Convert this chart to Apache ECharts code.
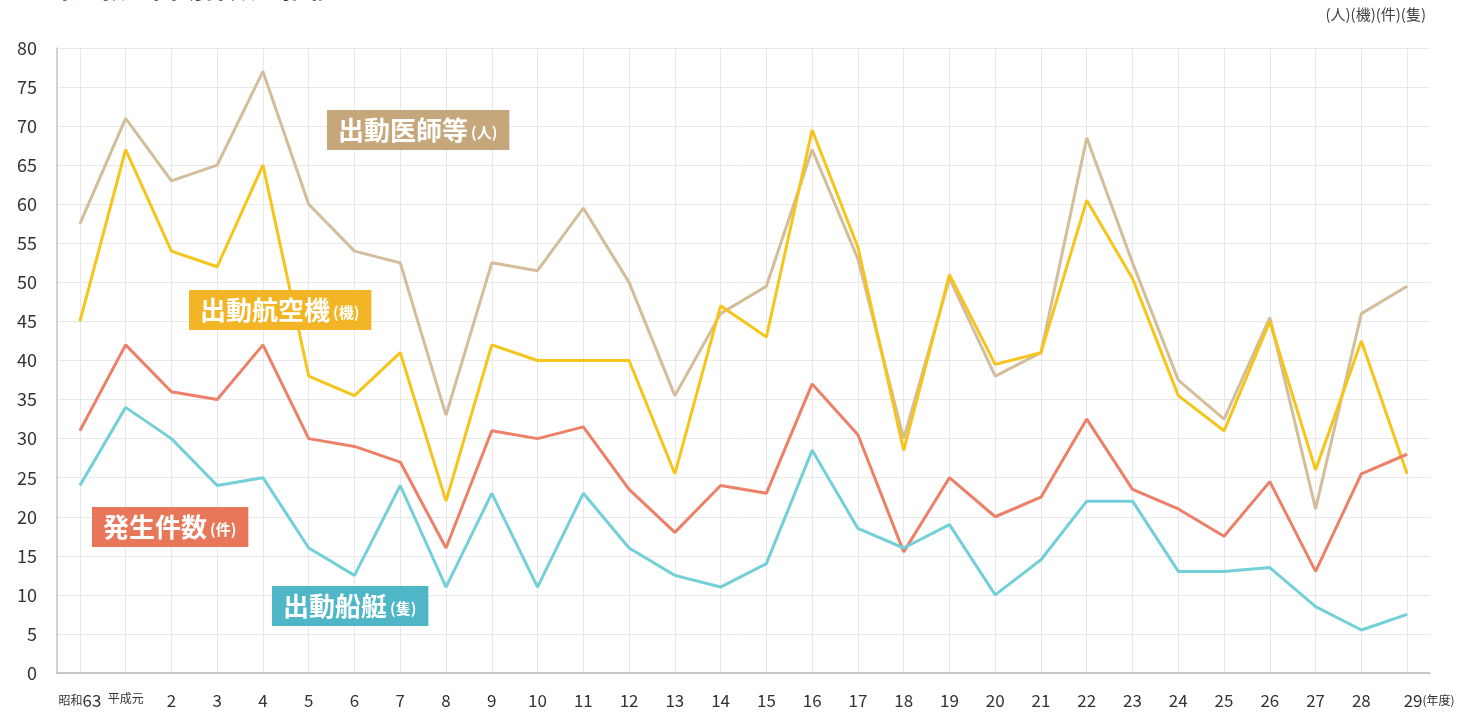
<!DOCTYPE html>
<html>
<head>
<meta charset="utf-8">
<script src="https://cdn.jsdelivr.net/npm/echarts@6/dist/echarts.min.js"></script>
<style>
  html, body { margin: 0; padding: 0; background: #fff; }
  #chart { width: 1466px; height: 716px; }
</style>
</head>
<body>
<div id="chart"></div>
<script>
// 年度
const years = ['昭和63', '平成元', '2', '3', '4', '5', '6', '7', '8', '9', '10', '11', '12', '13', '14',
  '15', '16', '17', '18', '19', '20', '21', '22', '23', '24', '25', '26', '27', '28', '29']
// 出動医師等(人)
const doctors = [57.5, 71, 63, 65, 77, 60, 54, 52.5, 33, 52.5, 51.5, 59.5, 50, 35.5, 46, 49.5, 67, 53, 30, 50.5,
  38, 41, 68.5, 52.5, 37.5, 32.5, 45.5, 21, 46, 49.5]
// 出動航空機(機)
const aircraft = [45, 67, 54, 52, 65, 38, 35.5, 41, 22, 42, 40, 40, 40, 25.5, 47, 43, 69.5, 54.5, 28.5, 51,
  39.5, 41, 60.5, 50.5, 35.5, 31, 45, 26, 42.5, 25.5]
// 発生件数(件)
const cases = [31, 42, 36, 35, 42, 30, 29, 27, 16, 31, 30, 31.5, 23.5, 18, 24, 23, 37, 30.5, 15.5, 25,
  20, 22.5, 32.5, 23.5, 21, 17.5, 24.5, 13, 25.5, 28]
// 出動船艇(隻)
const ships = [24, 34, 30, 24, 25, 16, 12.5, 24, 11, 23, 11, 23, 16, 12.5, 11, 14, 28.5, 18.5, 16, 19,
  10, 14.5, 22, 22, 13, 13, 13.5, 8.5, 5.5, 7.5]
const yTicks = { min: 0, max: 80, interval: 5 }

const font = '"Noto Sans CJK JP", "Noto Sans", sans-serif'
const chart = echarts.init(document.getElementById('chart'))

function lineSeries(name, data, color) {
  return {
    name: name,
    type: 'line',
    data: data,
    symbol: 'none',
    lineStyle: { width: 3, color: color },
    itemStyle: { color: color },
    z: 3
  }
}

// 系列名の札
function tag(left, top, main, unit, bg) {
  return {
    type: 'text',
    left: left,
    top: top,
    z: 10,
    style: {
      text: '{m|' + main + '}{u|' + unit + '}',
      backgroundColor: bg,
      padding: [5, 12, 5, 11],
      rich: {
        m: { fontFamily: font, fontSize: 26, fontWeight: 'bold', fill: '#fff', lineHeight: 30 },
        u: { fontFamily: font, fontSize: 15, fontWeight: 'bold', fill: '#fff', lineHeight: 30, padding: [5, 0, 0, 3] }
      }
    }
  }
}

chart.setOption({
  animation: false,
  grid: { left: 57, right: 36, top: 48, bottom: 43 },
  xAxis: {
    type: 'category',
    data: years,
    boundaryGap: true,
    axisLine: { show: true, lineStyle: { color: '#b9b9b9', width: 1.5 } },
    axisTick: { show: false },
    splitLine: { show: true, alignWithLabel: true, lineStyle: { color: '#e8e8e8', width: 1 } },
    axisLabel: {
      interval: 0,
      margin: 19,
      color: '#333',
      fontFamily: font,
      fontSize: 17,
      formatter: function(v) {
        if (v === '昭和63') return '{s|昭和}63'
        if (v === '平成元') return '{s|平成元}'
        if (v === '29') return '{sp| }29{s|(年度)}'
        return v
      },
      rich: {
        s: { fontFamily: font, fontSize: 12, color: '#333' },
        sp: { width: 44 }
      }
    }
  },
  yAxis: {
    type: 'value',
    min: yTicks.min,
    max: yTicks.max,
    interval: yTicks.interval,
    axisLine: { show: true, lineStyle: { color: '#c4c4c4', width: 1.5 } },
    axisTick: { show: false },
    splitLine: { lineStyle: { color: '#e8e8e8', width: 1 } },
    axisLabel: { margin: 20, color: '#333', fontFamily: font, fontSize: 18 }
  },
  series: [
    lineSeries('出動医師等', doctors, '#d4bd9a'),
    lineSeries('出動航空機', aircraft, '#f6c51b'),
    lineSeries('発生件数', cases, '#ec8068'),
    lineSeries('出動船艇', ships, '#73cfd8')
  ],
  graphic: [
    {
      type: 'text',
      left: 48,
      top: -25,
      style: { text: '洋上救急出動件数の推移', fontFamily: font, fontSize: 26, fontWeight: 'bold', fill: '#1d3c6e' }
    },
    {
      type: 'text',
      right: 40,
      top: 7,
      style: { text: '(人)(機)(件)(隻)', fontFamily: font, fontSize: 15, fill: '#444' }
    },
    tag(327, 110, '出動医師等', '(人)', '#c6a67b'),
    tag(189, 290, '出動航空機', '(機)', '#f1b526'),
    tag(92, 507, '発生件数', '(件)', '#e8775a'),
    tag(272, 586, '出動船艇', '(隻)', '#4eb6c7')
  ]
})
</script>
</body>
</html>
